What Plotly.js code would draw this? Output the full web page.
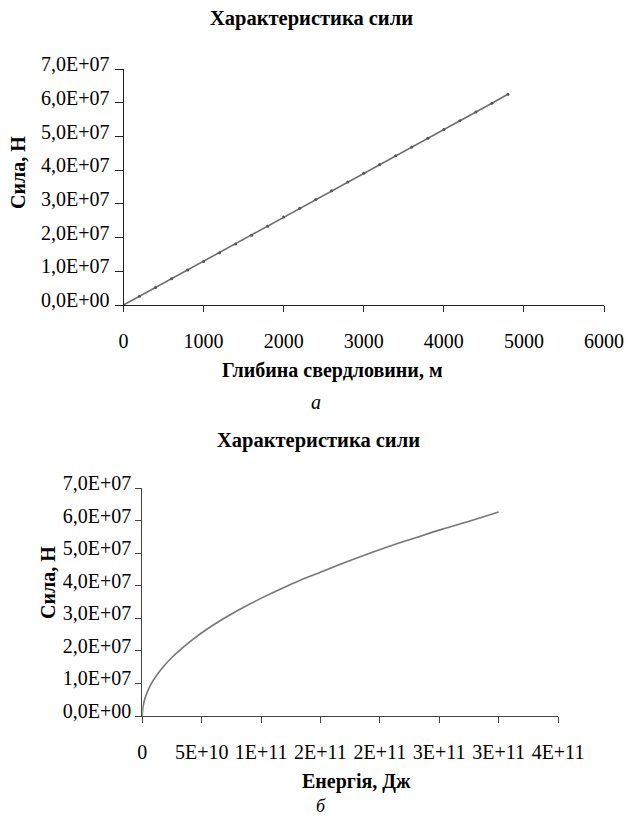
<!DOCTYPE html>
<html>
<head>
<meta charset="utf-8">
<script src="https://cdn.plot.ly/plotly-3.0.1.min.js"></script>
<style>html,body{margin:0;padding:0;background:#fff;}#chart{width:628px;height:818px;}</style>
</head>
<body>
<div id="chart"></div>
<script>
// Chart а: force vs well depth
const depth = [0,200,400,600,800,1000,1200,1400,1600,1800,2000,2200,2400,2600,2800,3000,3200,3400,3600,3800,4000,4200,4400,4600,4800];
const force = [0,2.6e6,5.2e6,7.8e6,1.04e7,1.29e7,1.55e7,1.81e7,2.07e7,2.34e7,2.61e7,2.87e7,3.13e7,3.39e7,3.65e7,3.91e7,4.17e7,4.43e7,4.69e7,4.95e7,5.21e7,5.47e7,5.73e7,5.99e7,6.26e7];
// Chart б: force vs energy
const energy = [0,5.2e8,2.1e9,4.7e9,8.3e9,1.29e10,1.86e10,2.53e10,3.31e10,4.21e10,5.22e10,6.31e10,7.51e10,8.81e10,1.02e11,1.17e11,1.33e11,1.51e11,1.69e11,1.88e11,2.08e11,2.30e11,2.52e11,2.76e11,3.0e11];
const forceB = [0,2.6e6,5.2e6,7.8e6,1.04e7,1.29e7,1.55e7,1.81e7,2.07e7,2.34e7,2.61e7,2.87e7,3.13e7,3.39e7,3.65e7,3.91e7,4.17e7,4.43e7,4.69e7,4.95e7,5.21e7,5.47e7,5.73e7,5.99e7,6.26e7];

const yTickVals = [0,1e7,2e7,3e7,4e7,5e7,6e7,7e7];
const yTickText = ["0,0E+00","1,0E+07","2,0E+07","3,0E+07","4,0E+07","5,0E+07","6,0E+07","7,0E+07"];
const xTickValsA = [0,1000,2000,3000,4000,5000,6000];
const xTickTextA = ["0","1000","2000","3000","4000","5000","6000"];
const xTickValsB = [0,5e10,1e11,1.5e11,2e11,2.5e11,3e11,3.5e11];
const xTickTextB = ["0","5E+10","1E+11","2E+11","2E+11","3E+11","3E+11","4E+11"];

const chartTitle = "Характеристика сили";
const yTitle = "Сила, Н";
const xTitleA = "Глибина свердловини, м";
const xTitleB = "Енергія, Дж";
const labelA = "а";
const labelB = "б";

const W = 628, H = 818;
const px = v => v / W;
const py = v => (H - v) / H;

const serif = "Liberation Serif, Times New Roman, serif";
const tickFont = {family: serif, size: 20, color: "#000"};
const boldFont = {family: serif, size: 20, color: "#000", weight: "bold"};
const titleFont = {family: serif, size: 20.5, color: "#000", weight: "bold"};
const italicFont = {family: serif, size: 20, color: "#000", style: "italic"};
const italicSmall = {family: serif, size: 18, color: "#000", style: "italic"};

const traces = [
  {x: depth, y: force, xaxis: "x", yaxis: "y", type: "scatter", mode: "lines+markers",
   line: {color: "#6e6e6e", width: 1.6}, marker: {color: "#555", size: 3}, hoverinfo: "skip"},
  {x: energy, y: forceB, xaxis: "x2", yaxis: "y2", type: "scatter", mode: "lines",
   line: {color: "#777", width: 1.6, shape: "spline"}, hoverinfo: "skip"}
];

function yAxis(domain, anchor, ticklen, color, standoff) {
  return {domain: domain, anchor: anchor, range: [0, 7e7], tickvals: yTickVals, ticktext: yTickText,
    ticks: "outside", ticklen: ticklen, tickcolor: color, tickwidth: 1, showline: true, linecolor: color, linewidth: 1,
    showgrid: false, zeroline: false, tickfont: tickFont, automargin: false, ticklabelshift: -5, ticklabelstandoff: standoff, fixedrange: true};
}

const layout = {
  width: W, height: H, margin: {l: 0, r: 0, t: 0, b: 0}, paper_bgcolor: "#fff", plot_bgcolor: "#fff",
  showlegend: false,
  xaxis: {domain: [px(123.5), px(604)], anchor: "y", range: [0, 6000], tickvals: xTickValsA, ticktext: xTickTextA,
    ticks: "outside", ticklen: 6, tickcolor: "#222", showline: true, linecolor: "#222", linewidth: 1,
    showgrid: false, zeroline: false, tickfont: tickFont, automargin: false, ticklabelstandoff: 12, fixedrange: true},
  yaxis: yAxis([py(305), py(69.3)], "x", 8, "#222", 1),
  xaxis2: {domain: [px(142.3), px(558)], anchor: "y2", range: [0, 3.5e11], tickvals: xTickValsB, ticktext: xTickTextB,
    ticks: "outside", ticklen: 6, tickcolor: "#444", showline: true, linecolor: "#444", linewidth: 1,
    showgrid: false, zeroline: false, tickfont: tickFont, automargin: false, ticklabelstandoff: 12, fixedrange: true},
  yaxis2: yAxis([py(716), py(488)], "x2", 6, "#444", 0),
  annotations: [
    {text: chartTitle, x: px(311), y: py(18), xref: "paper", yref: "paper", showarrow: false, xanchor: "center", yanchor: "middle", font: titleFont},
    {text: yTitle, x: px(18), y: py(173), xref: "paper", yref: "paper", showarrow: false, textangle: -90, xanchor: "center", yanchor: "middle", font: boldFont},
    {text: xTitleA, x: px(332), y: py(371), xref: "paper", yref: "paper", showarrow: false, xanchor: "center", yanchor: "middle", font: boldFont},
    {text: labelA, x: px(316), y: py(402), xref: "paper", yref: "paper", showarrow: false, xanchor: "center", yanchor: "middle", font: italicFont},
    {text: chartTitle, x: px(318), y: py(440), xref: "paper", yref: "paper", showarrow: false, xanchor: "center", yanchor: "middle", font: titleFont},
    {text: yTitle, x: px(48), y: py(583), xref: "paper", yref: "paper", showarrow: false, textangle: -90, xanchor: "center", yanchor: "middle", font: boldFont},
    {text: xTitleB, x: px(356), y: py(781), xref: "paper", yref: "paper", showarrow: false, xanchor: "center", yanchor: "middle", font: boldFont},
    {text: labelB, x: px(321), y: py(806), xref: "paper", yref: "paper", showarrow: false, xanchor: "center", yanchor: "middle", font: italicSmall}
  ]
};

Plotly.newPlot("chart", traces, layout, {staticPlot: true, displayModeBar: false});
</script>
</body>
</html>
